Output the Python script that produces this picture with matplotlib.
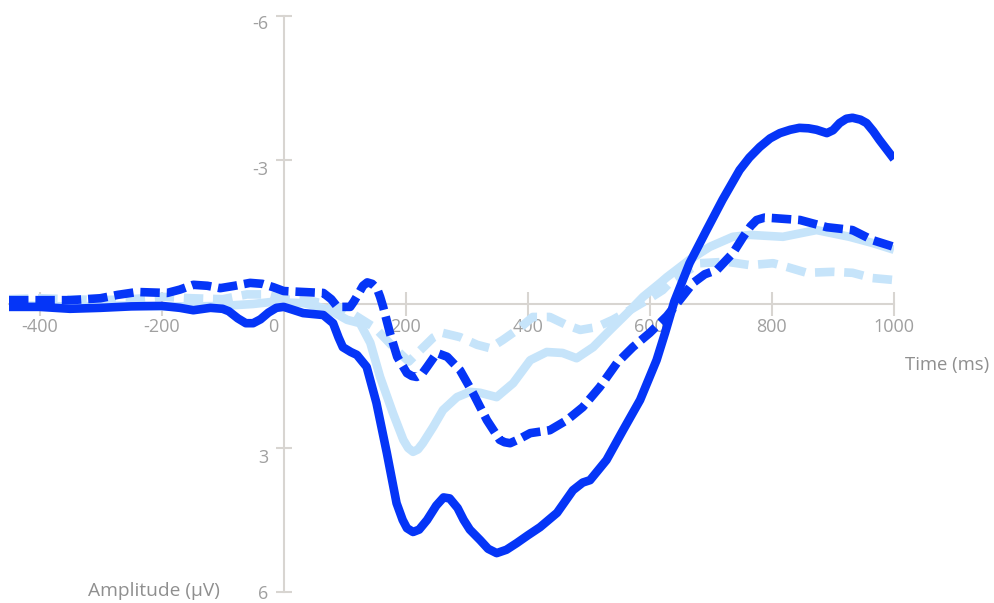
import matplotlib
matplotlib.use("Agg")
import matplotlib.pyplot as plt
import matplotlib.transforms as mtransforms

plt.rcParams['font.family'] = ['Open Sans', 'DejaVu Sans']
plt.rcParams['lines.scale_dashes'] = False

# ERP waveforms: time (ms) and amplitude (µV), negative plotted upward
t_dark_solid = [-450, -400, -350, -300, -250, -200, -170, -148, -120, -100, -90, -75, -62, -50, -38, -25, -12,
                0, 10, 32, 65, 81, 90, 97, 110, 120, 136, 152, 169, 185, 195, 202, 212, 222, 235, 250, 262,
                272, 285, 295, 305, 322, 335, 349, 365, 382, 400, 420, 448, 474, 490, 502, 529, 556, 584,
                611, 625, 640, 665, 693, 719, 747, 763, 780, 797, 813, 830, 845, 860, 873, 890, 900, 911,
                922, 932, 945, 955, 966, 976, 988, 1000]
v_dark_solid = [0.06, 0.06, 0.10, 0.08, 0.05, 0.04, 0.08, 0.13, 0.08, 0.10, 0.15, 0.30, 0.40, 0.40, 0.32, 0.18, 0.08,
                0.06, 0.10, 0.19, 0.23, 0.40, 0.70, 0.90, 1.00, 1.06, 1.31, 2.06, 3.10, 4.15, 4.50, 4.67, 4.75, 4.70, 4.50, 4.20, 4.03,
                4.05, 4.25, 4.50, 4.70, 4.92, 5.10, 5.19, 5.12, 4.98, 4.82, 4.65, 4.35, 3.88, 3.72, 3.67, 3.25, 2.63, 2.00,
                1.17, 0.60, -0.05, -0.85, -1.54, -2.17, -2.79, -3.05, -3.27, -3.45, -3.56, -3.63, -3.67, -3.66, -3.63, -3.56, -3.62, -3.77,
                -3.86, -3.88, -3.84, -3.77, -3.60, -3.42, -3.22, -3.02]

t_dark_dashed = [-450, -400, -350, -300, -272, -240, -191, -170, -148, -125, -104, -80, -55, -35, -17,
                 0, 32, 65, 78, 88, 109, 115, 122, 130, 137, 145, 153, 158, 163, 174, 186, 202, 210, 218,
                 227, 235, 251, 268, 289, 310, 333, 354, 362, 371, 385, 404, 436, 464, 490, 518, 546, 572,
                 600, 628, 650, 671, 690, 710, 736, 753, 765, 775, 788, 802, 846, 890, 932, 965, 1000]
v_dark_dashed = [-0.08, -0.08, -0.08, -0.12, -0.19, -0.25, -0.23, -0.30, -0.40, -0.38, -0.33, -0.38, -0.44, -0.42, -0.35,
                 -0.27, -0.25, -0.23, -0.10, 0.06, 0.06, -0.05, -0.20, -0.38, -0.45, -0.42, -0.32, -0.15, 0.06, 0.60, 1.10, 1.44, 1.50, 1.52,
                 1.45, 1.31, 1.02, 1.10, 1.38, 1.85, 2.42, 2.83, 2.88, 2.90, 2.82, 2.69, 2.63, 2.42, 2.15, 1.73, 1.23, 0.90,
                 0.60, 0.25, -0.10, -0.44, -0.62, -0.71, -1.06, -1.40, -1.62, -1.75, -1.80, -1.79, -1.75, -1.60, -1.54, -1.33, -1.19]

t_light_solid = [-450, -400, -350, -300, -250, -200, -150, -100, -50, -22, 0, 32, 55, 76, 104, 125,
                 142, 158, 179, 196, 204, 212, 220, 228, 245, 261, 284, 305, 322, 349, 376, 404, 431, 457,
                 480, 507, 535, 563, 589, 617, 628, 665, 698, 736, 764, 818, 857, 873, 927, 965, 1000]
v_light_solid = [0.02, 0.04, 0.05, 0.04, 0.03, 0.05, 0.05, 0.04, 0.00, -0.04, -0.03, -0.02, 0.05, 0.13, 0.33, 0.40,
                 0.81, 1.52, 2.27, 2.83, 3.00, 3.08, 3.03, 2.90, 2.56, 2.21, 1.94, 1.83, 1.85, 1.94, 1.65, 1.17, 1.00, 1.02,
                 1.13, 0.90, 0.54, 0.19, -0.15, -0.44, -0.56, -0.92, -1.19, -1.40, -1.44, -1.40, -1.50, -1.54, -1.40, -1.27, -1.13]

t_light_dashed = [-450, -400, -350, -300, -250, -200, -150, -100, -60, -30, 0, 50, 100, 150, 180, 205,
                  225, 245, 260, 289, 317, 338, 359, 387, 408, 436, 464, 486, 513, 539, 567, 595,
                  621, 637, 682, 726, 764, 802, 825, 857, 900, 932, 965, 1000]
v_light_dashed = [-0.10, -0.12, -0.10, -0.08, -0.10, -0.15, -0.12, -0.10, -0.20, -0.20, -0.10, -0.05, 0.10, 0.50, 0.90, 1.20,
                  0.95, 0.70, 0.60, 0.69, 0.85, 0.92, 0.75, 0.50, 0.27, 0.27, 0.44, 0.54, 0.48, 0.33, 0.13, -0.08,
                  -0.29, -0.50, -0.85, -0.88, -0.81, -0.85, -0.77, -0.65, -0.67, -0.65, -0.54, -0.50]

x_ticks = [-400, -200, 0, 200, 400, 600, 800, 1000]
y_ticks = [-6, -3, 3, 6]

DARK = '#0535f7'
LIGHT = '#c6e4fa'
AXIS = '#d8d5d1'
TICKTXT = '#a0a0a0'

fig = plt.figure(figsize=(9.95, 6.03), dpi=100)
W, H = 995, 603
left_px, right_px = 9, 894
top_px, bottom_px = 16, 592
ax = fig.add_axes([left_px / W, 1 - bottom_px / H, (right_px - left_px) / W, (bottom_px - top_px) / H])

lw = 6.2
ax.plot(t_light_dashed, v_light_dashed, color=LIGHT, lw=lw, linestyle=(0, (14, 7)),
        dash_capstyle='butt', dash_joinstyle='round', zorder=2)
ax.plot(t_light_solid, v_light_solid, color=LIGHT, lw=lw, solid_capstyle='butt',
        solid_joinstyle='round', zorder=3)
ax.plot(t_dark_dashed, v_dark_dashed, color=DARK, lw=lw, linestyle=(0, (14, 5)),
        dash_capstyle='butt', dash_joinstyle='round', zorder=4)
ax.plot(t_dark_solid, v_dark_solid, color=DARK, lw=lw, solid_capstyle='butt',
        solid_joinstyle='round', zorder=5)

ax.set_xlim(-450, 1000)
ax.set_ylim(6, -6)

for side in ('top', 'right'):
    ax.spines[side].set_visible(False)
ax.spines['left'].set_position(('data', 0))
ax.spines['bottom'].set_position(('data', 0))
for side in ('left', 'bottom'):
    ax.spines[side].set_color(AXIS)
    ax.spines[side].set_linewidth(1.5)
    ax.spines[side].set_zorder(1)

ax.set_xticks(x_ticks)
ax.set_yticks(y_ticks)
ax.set_xticklabels([str(v) for v in x_ticks])
ax.set_yticklabels([str(v) for v in y_ticks])
ax.tick_params(axis='x', direction='inout', length=17, width=1.5, color=AXIS,
               labelcolor=TICKTXT, labelsize=13, pad=1.5)
ax.tick_params(axis='y', direction='inout', length=12, width=1.5, color=AXIS,
               labelcolor=TICKTXT, labelsize=13, pad=5)
ax.patch.set_alpha(0)

# nudge the "0" label off the vertical axis, and the upper amplitude labels slightly down
for lab, val in zip(ax.get_xticklabels(), x_ticks):
    if val == 0:
        lab.set_transform(lab.get_transform() +
                          mtransforms.ScaledTranslation(-10 / 100, 0, fig.dpi_scale_trans))
y_label_shift = {-6: 6, -3: 8, 3: 8, 6: 0}
for lab, val in zip(ax.get_yticklabels(), y_ticks):
    lab.set_transform(lab.get_transform() +
                      mtransforms.ScaledTranslation(0, -y_label_shift[val] / 100, fig.dpi_scale_trans))

fig.text(905 / W, 1 - 365 / H, 'Time (ms)', ha='left', va='center', fontsize=13.3, color='#8f8f8f')
fig.text(88 / W, 1 - 591 / H, 'Amplitude (µV)', ha='left', va='center', fontsize=13.8, color='#8f8f8f')

fig.savefig('out.png', dpi=100)
